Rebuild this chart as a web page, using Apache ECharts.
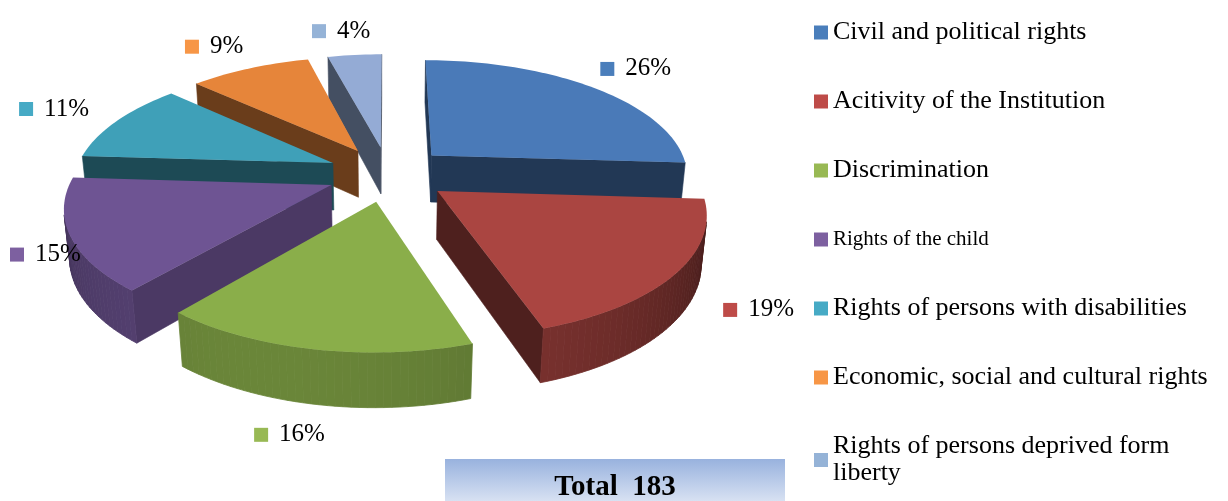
<!DOCTYPE html>
<html><head><meta charset="utf-8">
<script src="https://cdn.jsdelivr.net/npm/echarts@6/dist/echarts.min.js"></script>
<style>html,body{margin:0;padding:0;background:#fff}#c{width:1228px;height:501px}</style>
</head><body><div id="c"></div>
<script>
// ---- data ----
const categories = [
  'Civil and political rights',
  'Acitivity of the Institution',
  'Discrimination',
  'Rights of the child',
  'Rights of persons with disabilities',
  'Economic, social and cultural rights',
  'Rights of persons deprived form liberty'
];
const percentValues = [26, 19, 16, 15, 11, 9, 4];
const totalCount = 183;
const totalLabel = 'Total  ' + totalCount;

// ---- styles ----
const legendColors = ['#4A7EBB', '#BE4B48', '#98B954', '#7D60A0', '#46AAC5', '#F79646', '#95B3D7'];
const topColors    = ['#4A7AB8', '#AA4541', '#8AAE4A', '#6E5493', '#3FA0B8', '#E6853A', '#94ABD5'];
const FONT = "'Times New Roman','Liberation Serif',serif";

const chart = echarts.init(document.getElementById('c'), null, {renderer: 'canvas'});

const sum = percentValues.reduce((a, b) => a + b, 0);
const starts = [], ends = [];
let acc = 0;
percentValues.forEach(v => { starts.push(acc / sum * 360); acc += v; ends.push(acc / sum * 360); });
const mids = starts.map((s, i) => (s + ends[i]) / 2);

// 3D view parameters
const G = {R: 258, e: 61, d: 54, sinA: 0.45, cosA: 0.893, D0: 1427, labelK: 1.25};
const rad = Math.PI / 180;
function center(api) { return [api.getWidth() * 0.316, api.getHeight() * 0.347]; }
function makeProj(api) {
  const [cx, cy] = center(api);
  return (X, Z, H) => {
    const dist = G.D0 - (Z * G.cosA + H * G.sinA);
    const s = G.D0 / dist;
    return [cx + X * s, cy + (Z * G.sinA - H * G.cosA) * s];
  };
}
function shade(hex, f) {
  const n = parseInt(hex.slice(1), 16);
  const r = Math.round(((n >> 16) & 255) * f), g = Math.round(((n >> 8) & 255) * f), b = Math.round((n & 255) * f);
  return 'rgb(' + r + ',' + g + ',' + b + ')';
}
// draw order: back slices first
const depthZ = mids.map(m => -(G.e + G.R * 0.5) * Math.cos(m * rad));
const order = depthZ.map((z, i) => i).sort((a, b) => depthZ[a] - depthZ[b]);
const rank = []; order.forEach((idx, r) => { rank[idx] = r; });

function makeSliceRender(i) {
  return function (params, api) {
    const P = makeProj(api);
    const a0 = starts[i], a1 = ends[i], m = mids[i];
    const ox = G.e * Math.sin(m * rad), oz = -G.e * Math.cos(m * rad);
    const rim = (t, H) => P(ox + G.R * Math.sin(t * rad), oz - G.R * Math.cos(t * rad), H);
    const camZ = G.D0 * G.cosA;
    const visible = (px, pz, nAng) => {
      const nx = Math.sin(nAng * rad), nz = -Math.cos(nAng * rad);
      return (0 - px) * nx + (camZ - pz) * nz > 0;
    };
    const children = [];
    const steps = Math.max(6, Math.ceil((a1 - a0) / 1.5));
    [[a0, a0 - 90], [a1, a1 + 90]].forEach(([t, n]) => {
      const px = ox + 0.5 * G.R * Math.sin(t * rad), pz = oz - 0.5 * G.R * Math.cos(t * rad);
      if (visible(px, pz, n)) {
        const f = 0.46 + 0.22 * Math.max(0, Math.cos((n - 130) * rad)) * (n > 90 && n < 170 ? 1 : 0);
        const c = shade(topColors[i], f);
        children.push({type: 'polygon', z2: 1,
          shape: {points: [P(ox, oz, 0), rim(t, 0), rim(t, -G.d), P(ox, oz, -G.d)]},
          style: {fill: c, stroke: c, lineWidth: 0.6}});
      }
    });
    for (let k = 0; k < steps; k++) {
      const t0 = a0 + (a1 - a0) * k / steps, t1 = a0 + (a1 - a0) * (k + 1) / steps, tm = (t0 + t1) / 2;
      const px = ox + G.R * Math.sin(tm * rad), pz = oz - G.R * Math.cos(tm * rad);
      if (!visible(px, pz, tm)) continue;
      const f = 0.45 + 0.32 * Math.max(0, Math.cos((tm - 200) * rad));
      const c = shade(topColors[i], f);
      children.push({type: 'polygon', z2: 2,
        shape: {points: [rim(t0, 0), rim(t1, 0), rim(t1, -G.d), rim(t0, -G.d)]},
        style: {fill: c, stroke: c, lineWidth: 0.8}});
    }
    const pts = [P(ox, oz, 0)];
    for (let k = 0; k <= steps; k++) pts.push(rim(a0 + (a1 - a0) * k / steps, 0));
    children.push({type: 'polygon', z2: 5, shape: {points: pts}, style: {fill: topColors[i]}});
    return {type: 'group', children};
  };
}

function labelRender(params, api) {
  const i = api.value(0);
  const P = makeProj(api);
  const m = mids[i];
  const rr = (G.R + G.e) * G.labelK;
  const front = Math.max(0, -Math.cos(m * rad));
  const p = P(rr * Math.sin(m * rad), -rr * Math.cos(m * rad), -0.5 * G.d * Math.pow(front, 3));
  const txt = percentValues[i] + '%';
  const boxW = 72;
  let left = p[0] - boxW / 2;
  left = Math.max(10, Math.min(api.getWidth() - boxW - 5, left));
  const y = p[1];
  return {type: 'group', children: [
    {type: 'rect', shape: {x: left, y: y - 7, width: 14, height: 14}, style: {fill: legendColors[i]}},
    {type: 'text', x: left + 25, y: y, style: {text: txt, fill: '#000', font: '25px ' + FONT, textAlign: 'left', textVerticalAlign: 'middle'}}
  ]};
}

const series = categories.map((name, i) => ({
  type: 'custom', name: name, coordinateSystem: 'none',
  z: 10 + rank[i], silent: true,
  itemStyle: {color: legendColors[i]},
  data: [[i]],
  renderItem: makeSliceRender(i)
}));
series.push({
  type: 'custom', name: 'labels', coordinateSystem: 'none', z: 40, silent: true,
  data: percentValues.map((v, i) => [i]),
  renderItem: labelRender
});

// wrap very long legend names at the last space
function wrapName(n) {
  if (n.length <= 37) return n;
  const k = n.lastIndexOf(' ');
  return n.slice(0, k) + '\n' + n.slice(k + 1);
}

chart.setOption({
  backgroundColor: '#fff',
  animation: false,
  legend: {
    orient: 'vertical', left: 814, top: 19, padding: 0,
    icon: 'rect', itemWidth: 14, itemHeight: 14, itemGap: 42,
    selectedMode: false,
    formatter: wrapName,
    textStyle: {fontFamily: FONT, fontSize: 26, color: '#000', lineHeight: 27},
    data: categories.map(n => n === 'Rights of the child'
      ? {name: n, textStyle: {fontSize: 21}}
      : {name: n})
  },
  graphic: [
    {type: 'rect', left: 445, top: 459, shape: {width: 340, height: 50},
     style: {fill: new echarts.graphic.LinearGradient(0, 0, 0, 1, [{offset: 0, color: '#98B2DE'}, {offset: 1, color: '#E3EAF6'}])}},
    {type: 'text', x: 615, y: 488, style: {text: totalLabel, font: 'bold 29px ' + FONT, fill: '#000', textAlign: 'center', textVerticalAlign: 'middle'}}
  ],
  series: series
});
</script></body></html>
